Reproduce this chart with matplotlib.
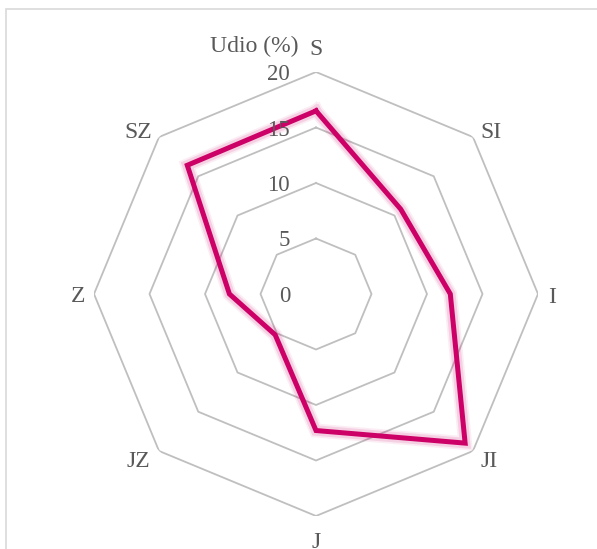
import numpy as np
import matplotlib.pyplot as plt
from matplotlib.patches import Rectangle
from matplotlib.transforms import offset_copy

# data
directions = ['S', 'SI', 'I', 'JI', 'J', 'JZ', 'Z', 'SZ']
udio = [16.5, 10.8, 12.1, 19.0, 12.3, 5.2, 7.8, 16.4]
ticks = [0, 5, 10, 15, 20]

line_color = '#CC0066'
grid_color = '#BFBFBF'
text_color = '#595959'
plt.rcParams['font.family'] = ['Liberation Serif', 'DejaVu Serif']

fig = plt.figure(figsize=(5.97, 5.49), dpi=100)
ax = fig.add_axes([94/597, 33/549, 444/597, 444/549], projection='polar')
ax.set_theta_offset(np.pi/2)
ax.set_theta_direction(-1)
ax.set_ylim(0, 20)
ax.grid(False)
ax.spines['polar'].set_visible(False)
ax.set_xticks([])
ax.set_yticks([])
ax.patch.set_alpha(0)

n = len(directions)
ang = np.arange(n) * 2*np.pi/n
ang_c = np.append(ang, ang[0])

# polygon grid
for t in ticks[1:]:
    ax.plot(ang_c, [t]*(n+1), color=grid_color, lw=1.3, zorder=1)

# series with soft glow
vals = np.append(udio, udio[0])
for w, a in [(10, 0.07), (7.5, 0.12)]:
    ax.plot(ang_c, vals, color=line_color, lw=w, alpha=a, solid_joinstyle='miter', zorder=2)
ax.plot(ang_c, vals, color=line_color, lw=3.6, solid_joinstyle='miter', zorder=3)

# category labels, offset (px) from the outer vertex
offs = [(0, 25), (18, 7), (14, -1), (16, -8), (0, -24), (-21, -8), (-16, 0), (-21, 7)]
for a, lab, (dx, dy) in zip(ang, directions, offs):
    tr = offset_copy(ax.transData, fig=fig, x=dx, y=dy, units='dots')
    ax.text(a, 20, lab, transform=tr, ha='center', va='center_baseline',
            fontsize=17, color=text_color)

# value labels
tr = offset_copy(ax.transData, fig=fig, x=-26, y=0, units='dots')
for t in ticks:
    ax.text(0, t, str(t), transform=tr, ha='right', va='center_baseline',
            fontsize=16.5, color=text_color)

fig.text(298/597, 1-44/549, 'Udio (%)', ha='right', va='center_baseline',
         fontsize=17, color=text_color)

# chart area border
fig.patches.append(Rectangle((6/597, -0.5), 2, 1.5 - 9/549, transform=fig.transFigure,
                             fill=False, edgecolor='#D9D9D9', lw=1.2))

fig.savefig('out.png', dpi=100)
